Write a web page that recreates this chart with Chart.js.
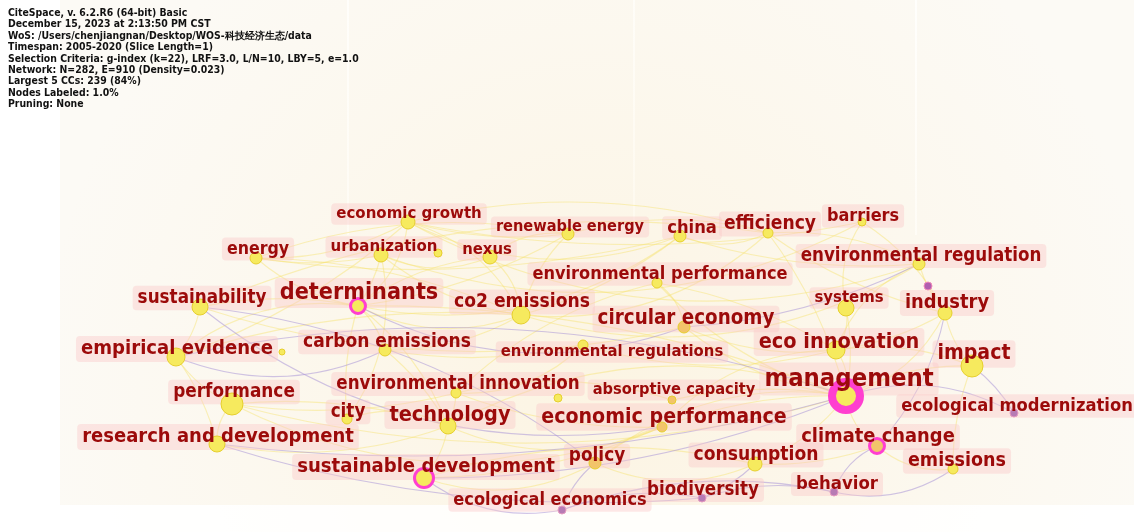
<!DOCTYPE html>
<html>
<head>
<meta charset="utf-8">
<script src="https://cdn.jsdelivr.net/npm/chart.js@4.4.0/dist/chart.umd.min.js"></script>
<style>
  html, body { margin: 0; padding: 0; background: #fff; }
  #wrap { position: relative; width: 1134px; height: 532px; overflow: hidden; }
  #info {
    position: absolute; left: 8px; top: 7px;
    font: bold 10.4px 'DejaVu Sans Condensed', 'DejaVu Sans', sans-serif;
    line-height: 11.4px; color: #111; white-space: pre;
  }
</style>
</head>
<body>
<div id="wrap">
  <canvas id="net" width="1134" height="532"></canvas>
  <div id="info"></div>
</div>
<script>
// ── Header lines (CiteSpace run summary) ──
const infoLines = [
  'CiteSpace, v. 6.2.R6 (64-bit) Basic',
  'December 15, 2023 at 2:13:50 PM CST',
  'WoS: /Users/chenjiangnan/Desktop/WOS-科技经济生态/data',
  'Timespan: 2005-2020 (Slice Length=1)',
  'Selection Criteria: g-index (k=22), LRF=3.0, L/N=10, LBY=5, e=1.0',
  'Network: N=282, E=910 (Density=0.023)',
  'Largest 5 CCs: 239 (84%)',
  'Nodes Labeled: 1.0%',
  'Pruning: None'
];

// ── Keywords and layout coordinates ──
const keywords = [
  'economic growth', 'renewable energy', 'china', 'efficiency', 'barriers',
  'energy', 'urbanization', 'nexus', 'environmental regulation', 'environmental performance',
  'sustainability', 'determinants', 'co2 emissions', 'systems', 'industry',
  'circular economy', 'empirical evidence', 'carbon emissions', 'environmental regulations', 'eco innovation',
  'impact', 'performance', 'environmental innovation', 'absorptive capacity', 'management',
  'city', 'technology', 'economic performance', 'ecological modernization', 'research and development',
  'climate change', 'sustainable development', 'policy', 'consumption', 'emissions',
  'ecological economics', 'biodiversity', 'behavior'
];
const nodeX = [
  408, 568, 680, 768, 862,
  256, 381, 490, 919, 657,
  200, 358, 521, 846, 945,
  684, 176, 385, 583, 836,
  972, 232, 456, 672, 846,
  347, 448, 662, 1014, 217,
  877, 424, 595, 755, 953,
  562, 702, 834
];
const nodeY = [
  222, 234, 236, 233, 222,
  258, 255, 257, 264, 283,
  307, 306, 315, 308, 313,
  327, 357, 350, 345, 350,
  366, 404, 393, 400, 396,
  419, 426, 427, 413, 444,
  446, 478, 463, 464, 469,
  510, 498, 492
];
// node radius (frequency)
const nodeR = [
  7, 6, 6, 5, 4,
  6, 7, 7, 6, 5,
  8, 9, 9, 8, 7,
  6, 9, 6, 5, 9,
  11, 11, 5, 4, 18,
  5, 8, 5, 4, 8,
  9, 11, 6, 7, 5,
  4, 4, 4
];
// unlabeled nodes
const minorX = [438, 928, 558, 282];
const minorY = [253, 286, 398, 352];
const minorR = [4, 4, 4, 3];

// label anchors
const labelX = [
  409, 570, 692, 770, 863,
  258, 384, 487, 921, 660,
  202, 359, 522, 849, 947,
  686, 177, 387, 612, 839,
  974, 234, 458, 674, 849,
  348, 450, 664, 1017, 218,
  878, 426, 597, 756, 957,
  550, 703, 837
];
const labelY = [
  214, 227, 228, 224, 216,
  249, 247, 250, 256, 274,
  298, 293, 302, 298, 303,
  319, 349, 342, 352, 342,
  354, 392, 384, 390, 379,
  412, 415, 417, 406, 437,
  437, 467, 456, 455, 461,
  500, 490, 484
];

// ── Co-occurrence links ──
const yellowLinks = [
  ['management', 'eco innovation'], ['management', 'impact'], ['management', 'economic performance'],
  ['management', 'climate change'], ['management', 'consumption'], ['management', 'systems'],
  ['management', 'industry'], ['management', 'circular economy'], ['management', 'absorptive capacity'],
  ['management', 'technology'], ['management', 'performance'], ['management', 'determinants'],
  ['management', 'policy'], ['management', 'environmental performance'], ['management', 'efficiency'],
  ['determinants', 'economic growth'], ['determinants', 'energy'], ['determinants', 'urbanization'],
  ['determinants', 'co2 emissions'], ['determinants', 'carbon emissions'], ['determinants', 'sustainability'],
  ['determinants', 'empirical evidence'], ['determinants', 'nexus'], ['determinants', 'renewable energy'],
  ['determinants', 'china'], ['determinants', 'technology'], ['determinants', 'city'],
  ['co2 emissions', 'economic growth'], ['co2 emissions', 'renewable energy'], ['co2 emissions', 'energy'],
  ['co2 emissions', 'nexus'], ['co2 emissions', 'urbanization'], ['co2 emissions', 'china'],
  ['co2 emissions', 'efficiency'], ['co2 emissions', 'carbon emissions'], ['co2 emissions', 'empirical evidence'],
  ['co2 emissions', 'environmental regulation'], ['economic growth', 'energy'], ['economic growth', 'renewable energy'],
  ['economic growth', 'china'], ['economic growth', 'efficiency'], ['economic growth', 'barriers'],
  ['renewable energy', 'nexus'], ['renewable energy', 'efficiency'], ['china', 'environmental regulation'],
  ['china', 'efficiency'], ['efficiency', 'environmental regulation'], ['efficiency', 'industry'],
  ['barriers', 'systems'], ['barriers', 'industry'], ['environmental regulation', 'industry'],
  ['environmental regulation', 'eco innovation'], ['eco innovation', 'circular economy'],
  ['eco innovation', 'environmental performance'], ['eco innovation', 'economic performance'],
  ['eco innovation', 'impact'], ['eco innovation', 'industry'], ['eco innovation', 'systems'],
  ['eco innovation', 'environmental regulations'], ['technology', 'environmental innovation'],
  ['technology', 'economic performance'], ['technology', 'research and development'], ['technology', 'performance'],
  ['technology', 'city'], ['technology', 'sustainable development'], ['technology', 'carbon emissions'],
  ['performance', 'research and development'], ['performance', 'empirical evidence'],
  ['performance', 'environmental innovation'], ['performance', 'economic performance'],
  ['environmental innovation', 'environmental performance'], ['environmental innovation', 'economic performance'],
  ['environmental innovation', 'environmental regulations'], ['environmental innovation', 'absorptive capacity'],
  ['research and development', 'empirical evidence'], ['sustainable development', 'policy'],
  ['sustainable development', 'consumption'], ['sustainable development', 'economic performance'],
  ['policy', 'consumption'], ['policy', 'economic performance'], ['consumption', 'climate change'],
  ['climate change', 'emissions'], ['impact', 'industry'], ['impact', 'emissions'],
  ['circular economy', 'environmental performance'], ['circular economy', 'sustainability'],
  ['energy', 'urbanization'], ['urbanization', 'nexus'], ['sustainability', 'empirical evidence'],
  ['carbon emissions', 'environmental regulations'], ['city', 'urbanization'], ['energy', 'renewable energy'],
  ['energy', 'china'], ['economic growth', 'environmental regulation'], ['sustainability', 'efficiency'],
  ['empirical evidence', 'economic growth'], ['urbanization', 'barriers']
];
const purpleLinks = [
  ['sustainability', 'economic performance'], ['empirical evidence', 'management'],
  ['research and development', 'management'], ['sustainable development', 'ecological economics'],
  ['biodiversity', 'behavior'], ['biodiversity', 'consumption'], ['behavior', 'emissions'],
  ['ecological economics', 'biodiversity'], ['ecological modernization', 'impact'],
  ['ecological modernization', 'management'], ['industry', 'climate change'],
  ['circular economy', 'environmental regulation'], ['climate change', 'behavior'],
  ['ecological economics', 'policy'], ['sustainable development', 'management'],
  ['empirical evidence', 'carbon emissions'], ['sustainability', 'policy'],
  ['research and development', 'biodiversity'], ['determinants', 'circular economy'],
  ['ecological economics', 'behavior']
];

// ── Node styling ──
const ringNodes = ['management', 'determinants', 'climate change', 'sustainable development'];
const orangeNodes = ['circular economy', 'economic performance', 'absorptive capacity', 'climate change', 'policy'];
const purpleNodes = ['ecological modernization', 'ecological economics', 'biodiversity', 'behavior'];
const labelSize = [
  16.7, 16.2, 18.2, 19.1, 17.9,
  17.6, 16.7, 16.5, 18.6, 18,
  18.7, 23.2, 19.1, 16.6, 19.9,
  20.4, 20.1, 19, 16.5, 21.5,
  21.1, 18.8, 18.6, 16.3, 25.4,
  18.7, 21.5, 21.2, 18.2, 20,
  19.9, 20.1, 18.8, 19.1, 19.5,
  18, 18.6, 18.4
];
const labelFont = "'DejaVu Sans Condensed', 'DejaVu Sans', sans-serif";

const idx = {};
keywords.forEach((k, i) => { idx[k] = i; });

function ringWidth(r) { return r >= 15 ? 8 : 3; }

const nodePoints = keywords.map((k, i) => {
  const ring = ringNodes.includes(k);
  return { x: nodeX[i], y: nodeY[i], r: ring ? nodeR[i] - ringWidth(nodeR[i]) / 2 : nodeR[i] };
});
const nodeFill = keywords.map(k => purpleNodes.includes(k) ? '#b77bb4' : orangeNodes.includes(k) ? '#f2c46a' : '#f6ea5e');
const nodeBorder = keywords.map(k => ringNodes.includes(k) ? '#ff3fd0' : purpleNodes.includes(k) ? '#e59ac0' : '#e6cf2e');
const nodeBorderW = keywords.map((k, i) => ringNodes.includes(k) ? ringWidth(nodeR[i]) : 1);

// ── Background, links and label boxes ──
const backdrop = {
  id: 'backdrop',
  beforeDraw(chart) {
    const c = chart.ctx;
    c.save();
    c.fillStyle = '#ffffff';
    c.fillRect(0, 0, chart.width, chart.height);
    c.fillStyle = '#fcfaf5';
    c.fillRect(60, 0, chart.width - 60, 505);
    c.fillStyle = 'rgba(255,255,255,0.9)';
    [347, 633, 915].forEach(x => c.fillRect(x, 0, 2, 235));
    const g = c.createRadialGradient(600, 390, 40, 600, 390, 560);
    g.addColorStop(0, 'rgba(252,236,200,0.38)');
    g.addColorStop(0.6, 'rgba(252,236,200,0.14)');
    g.addColorStop(1, 'rgba(252,236,200,0)');
    c.fillStyle = g;
    c.fillRect(0, 0, chart.width, chart.height);
    c.fillStyle = 'rgba(255,255,255,0.75)';
    c.fillRect(0, 505, chart.width, 27);
    c.fillRect(0, 110, 60, 395);
    c.restore();
  },
  beforeDatasetsDraw(chart) {
    const c = chart.ctx, sx = chart.scales.x, sy = chart.scales.y;
    const bends = [0.22, -0.14, 0.1];
    const drawLinks = (links, color, width) => {
      links.forEach(([a, b], n) => {
        const i = idx[a], j = idx[b];
        const x1 = sx.getPixelForValue(nodeX[i]), y1 = sy.getPixelForValue(nodeY[i]);
        const x2 = sx.getPixelForValue(nodeX[j]), y2 = sy.getPixelForValue(nodeY[j]);
        const dx = x2 - x1, dy = y2 - y1;
        const bend = bends[n % 3];
        const cx = (x1 + x2) / 2 - dy * bend, cy = (y1 + y2) / 2 + dx * bend;
        c.beginPath();
        c.moveTo(x1, y1);
        c.quadraticCurveTo(cx, cy, x2, y2);
        c.strokeStyle = color;
        c.lineWidth = width;
        c.stroke();
      });
    };
    c.save();
    drawLinks(yellowLinks, 'rgba(246,226,110,0.45)', 1.2);
    drawLinks(purpleLinks, 'rgba(170,150,215,0.55)', 1.1);
    // label boxes
    keywords.forEach((k, i) => {
      const lx = sx.getPixelForValue(labelX[i]), ly = sy.getPixelForValue(labelY[i]);
      c.font = `bold ${labelSize[i]}px ${labelFont}`;
      const w = c.measureText(k).width + 10, h = labelSize[i] * 1.3;
      c.fillStyle = 'rgba(250,200,200,0.42)';
      c.beginPath();
      c.roundRect(lx - w / 2, ly - h / 2, w, h, 4);
      c.fill();
    });
    c.restore();
  },
  afterDatasetsDraw(chart) {
    const c = chart.ctx, sx = chart.scales.x, sy = chart.scales.y;
    c.save();
    c.textAlign = 'center';
    c.textBaseline = 'middle';
    c.fillStyle = '#9c0a0a';
    keywords.forEach((k, i) => {
      c.font = `bold ${labelSize[i]}px ${labelFont}`;
      c.fillText(k, sx.getPixelForValue(labelX[i]), sy.getPixelForValue(labelY[i]));
    });
    c.restore();
  }
};

document.getElementById('info').textContent = infoLines.join('\n');

new Chart(document.getElementById('net'), {
  type: 'bubble',
  data: {
    datasets: [
      {
        label: 'other nodes',
        data: minorX.map((x, i) => ({ x, y: minorY[i], r: minorR[i] })),
        backgroundColor: ['#f6ea5e', '#b05fb0', '#f6ea5e', '#f6ea5e'],
        borderColor: ['#e6cf2e', '#f08ab8', '#e6cf2e', '#e6cf2e'],
        borderWidth: 1
      },
      {
        label: 'keywords',
        data: nodePoints,
        backgroundColor: nodeFill,
        borderColor: nodeBorder,
        borderWidth: nodeBorderW
      }
    ]
  },
  options: {
    responsive: false,
    animation: false,
    events: [],
    layout: { padding: 0, autoPadding: false },
    plugins: { legend: { display: false }, tooltip: { enabled: false } },
    scales: {
      x: { display: false, min: 0, max: 1134 },
      y: { display: false, min: 0, max: 532, reverse: true }
    }
  },
  plugins: [backdrop]
});
</script>
</body>
</html>
